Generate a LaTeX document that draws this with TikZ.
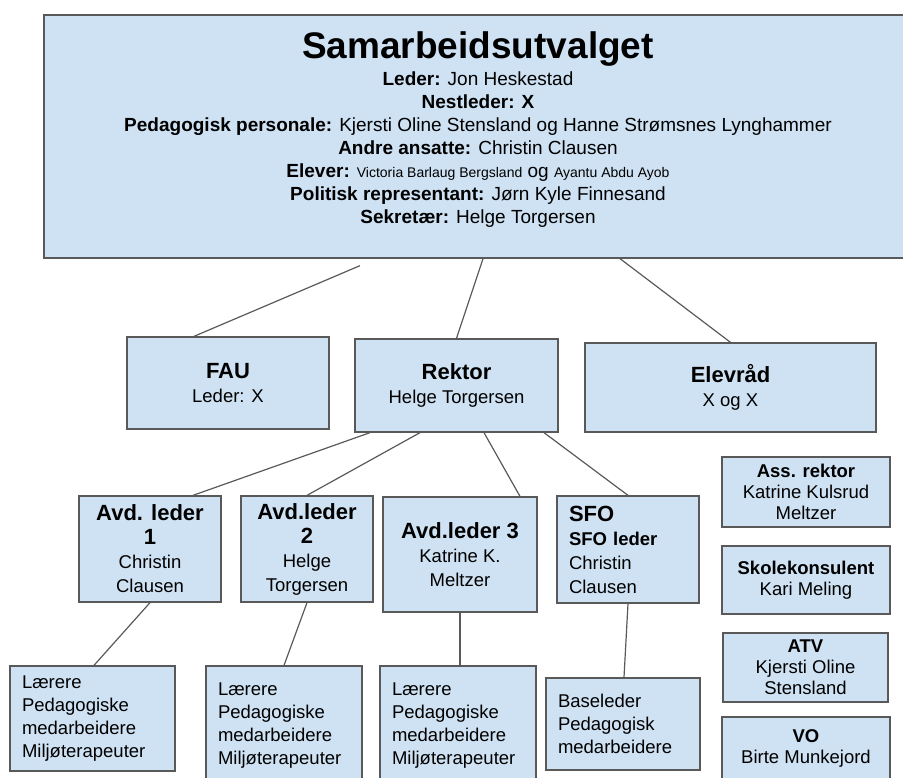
\documentclass[tikz,border=0pt]{standalone}
\usepackage{fontspec}
\setmainfont{Liberation Sans}
\usepackage{xcolor}
\definecolor{boxfill}{HTML}{CFE2F3}
\definecolor{boxline}{HTML}{595959}

\tikzset{
  unit/.style={draw=boxline, fill=boxfill, line width=1.3pt, inner sep=0pt, align=center, font=\fontsize{18.5}{24}\selectfont},
  staff/.style={unit, align=left, inner xsep=12pt, font=\fontsize{18.5}{23}\selectfont},
  side/.style={unit, font=\fontsize{18.5}{21}\selectfont},
  link/.style={draw=boxline, line width=1.2pt},
}
\newcommand{\unithead}[1]{{\fontsize{22}{24}\selectfont\bfseries #1}}
\newcommand{\smallname}[1]{{\fontsize{14}{16}\selectfont #1}}

\begin{document}
\begin{tikzpicture}[x=1pt, y=-1pt]
    \useasboundingbox (0, 0) rectangle (903, 778);
    \clip (0, 0) rectangle (903, 778);

    % Samarbeidsutvalget
    \node [unit, minimum width=871, minimum height=243] (su) at (479.5, 136.5) {};
    \node [align=center, anchor=north, inner sep=0pt, font=\fontsize{19}{23}\selectfont] (suText) at (478, 31)
      {{\fontsize{37}{40}\selectfont\bfseries Samarbeidsutvalget}\\[4pt]
       \textbf{Leder:} Jon Heskestad\\
       \textbf{Nestleder: X}\\
       \textbf{Pedagogisk personale:} Kjersti Oline Stensland og Hanne Strømsnes Lynghammer\\
       \textbf{Andre ansatte:} Christin Clausen\\
       \textbf{Elever:} \smallname{Victoria Barlaug Bergsland} og \smallname{Ayantu Abdu Ayob}\\
       \textbf{Politisk representant:} Jørn Kyle Finnesand\\
       \textbf{Sekretær:} Helge Torgersen};

    % FAU, Rektor, Elevraad
    \node [unit, minimum width=202, minimum height=92] (fau) at (228, 383) {\unithead{FAU}\\Leder: X};
    \node [unit, minimum width=203, minimum height=93] (rektor) at (456.5, 385.5) {\unithead{Rektor}\\Helge Torgersen};
    \node [unit, minimum width=291, minimum height=89] (elevrad) at (730.5, 387.5) {\unithead{Elevråd}\\X og X};
    \draw [link] ([xshift=-119.5pt, yshift=-7pt]su.south) -- ([xshift=-34pt]fau.north);
    \draw [link] ([xshift=3.5pt]su.south) -- (rektor.north);
    \draw [link] ([xshift=140.5pt]su.south) -- (elevrad.north);

    % Avdelingsledere
    \node [unit, minimum width=142, minimum height=106] (avd1) at (150, 549) {\unithead{Avd. leder}\\\unithead{1}\\Christin\\Clausen};
    \node [unit, minimum width=132, minimum height=106] (avd2) at (307, 549) {\unithead{Avd.leder}\\\unithead{2}\\Helge\\Torgersen};
    \node [unit, minimum width=154, minimum height=115] (avd3) at (460, 554.5) {\unithead{Avd.leder 3}\\Katrine K.\\Meltzer};
    \node [staff, text width=118, minimum height=107, font=\fontsize{18.5}{24}\selectfont] (sfo) at (628, 549.5) {\unithead{SFO}\\\textbf{SFO leder}\\Christin\\Clausen};
    \draw [link] ([xshift=-86.5pt]rektor.south) -- ([xshift=43pt]avd1.north);
    \draw [link] ([xshift=-36.5pt]rektor.south) -- (avd2.north);
    \draw [link] ([xshift=27.5pt]rektor.south) -- ([xshift=60pt]avd3.north);
    \draw [link] ([xshift=87.5pt]rektor.south) -- (sfo.north);

    % Ansatte
    \node [staff, text width=141, minimum height=105] (lag1) at (92.5, 718.5) {Lærere\\Pedagogiske\\medarbeidere\\Miljøterapeuter};
    \node [staff, text width=132, minimum height=119] (lag2) at (284, 725.5) {Lærere\\Pedagogiske\\medarbeidere\\Miljøterapeuter};
    \node [staff, text width=132, minimum height=119] (lag3) at (458, 725.5) {Lærere\\Pedagogiske\\medarbeidere\\Miljøterapeuter};
    \node [staff, text width=130, minimum height=92] (base) at (623, 724) {Baseleder\\Pedagogisk\\medarbeidere};
    \draw [link] (avd1.south) -- ([xshift=1.5pt]lag1.north);
    \draw [link] (avd2.south) -- (lag2.north);
    \draw [link] (avd3.south) -- ([xshift=2pt]lag3.north);
    \draw [link] (sfo.south) -- ([xshift=1pt]base.north);

    % Stab
    \node [side, minimum width=168, minimum height=70] (assrektor) at (806, 492) {\textbf{Ass. rektor}\\Katrine Kulsrud\\Meltzer};
    \node [side, minimum width=168, minimum height=68] (konsulent) at (806, 580) {\textbf{Skolekonsulent}\\Kari Meling};
    \node [side, minimum width=165, minimum height=69] (atv) at (805.5, 667.5) {\textbf{ATV}\\Kjersti Oline\\Stensland};
    \node [side, minimum width=168, minimum height=62] (vo) at (806, 748) {\textbf{VO}\\Birte Munkejord};
\end{tikzpicture}
\end{document}
